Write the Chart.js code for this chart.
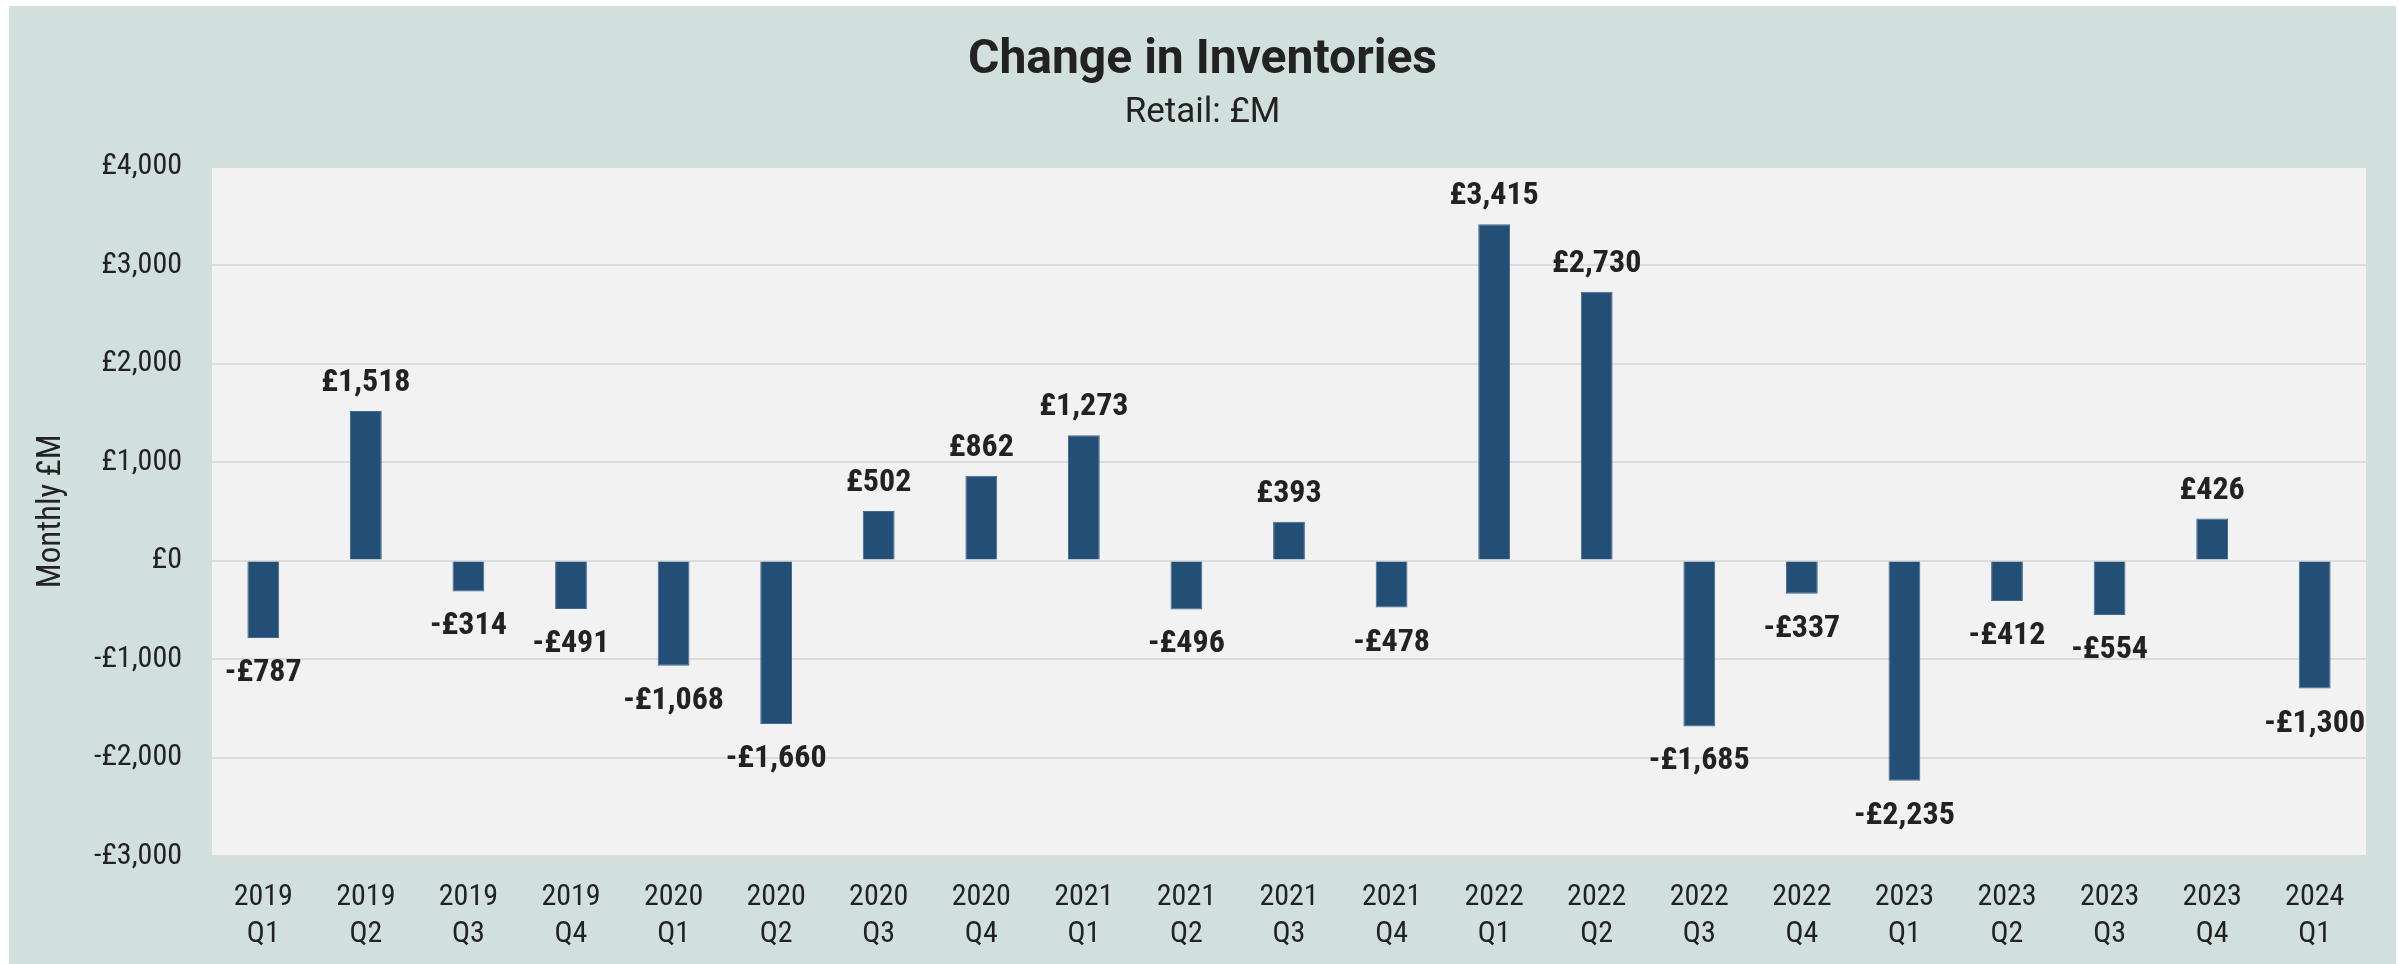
<!DOCTYPE html>
<html lang="en">
<head>
    <meta charset="UTF-8">
    <title>Change in Inventories</title>
    <script src="https://cdn.jsdelivr.net/npm/chart.js"></script>
    <style>
        html, body { margin: 0; padding: 0; background: #ffffff; }
        #wrap { width: 2405px; height: 964px; }
    </style>
</head>
<body>
<div id="wrap"><canvas id="myChart" width="2405" height="964"></canvas></div>

<script>
    // data
    const years    = ['2019','2019','2019','2019','2020','2020','2020','2020','2021','2021','2021','2021','2022','2022','2022','2022','2023','2023','2023','2023','2024'];
    const quarters = ['Q1','Q2','Q3','Q4','Q1','Q2','Q3','Q4','Q1','Q2','Q3','Q4','Q1','Q2','Q3','Q4','Q1','Q2','Q3','Q4','Q1'];
    const changeValues = [-787, 1518, -314, -491, -1068, -1660, 502, 862, 1273, -496, 393, -478, 3415, 2730, -1685, -337, -2235, -412, -554, 426, -1300];
    const yMin = -3000, yMax = 4000, yStep = 1000;

    const FONT_C = "'Roboto Condensed', 'Liberation Sans Narrow', Roboto, sans-serif"; // ticks, labels
    const FONT_R = "Roboto, 'Noto Sans', sans-serif";                                   // titles
    const TEXT = '#222222';

    // £1,234 / -£1,234
    function pounds(v) {
        const s = '£' + Math.abs(v).toLocaleString('en-GB');
        return v < 0 ? '-' + s : s;
    }

    // backgrounds: outer panel and the plot area
    const backgrounds = {
        id: 'backgrounds',
        beforeDraw(chart) {
            const { ctx, chartArea } = chart;
            ctx.save();
            ctx.fillStyle = '#d1e0dd';
            ctx.fillRect(9, 6, 2387, 958);
            ctx.fillStyle = '#f2f2f2';
            ctx.fillRect(chartArea.left, chartArea.top, chartArea.right - chartArea.left, chartArea.bottom - chartArea.top);
            ctx.restore();
        }
    };

    // value labels above / below each bar
    const valueLabels = {
        id: 'valueLabels',
        afterDatasetsDraw(chart) {
            const { ctx } = chart;
            const meta = chart.getDatasetMeta(0);
            ctx.save();
            ctx.font = 'bold 32px ' + FONT_C;
            ctx.fillStyle = TEXT;
            ctx.textAlign = 'center';
            ctx.textBaseline = 'alphabetic';
            meta.data.forEach((bar, i) => {
                const v = changeValues[i];
                const y = v >= 0 ? bar.y - 20 : bar.y + 43;
                ctx.fillText(pounds(v), bar.x, y);
            });
            ctx.restore();
        }
    };

    const ctx = document.getElementById('myChart').getContext('2d');
    new Chart(ctx, {
        type: 'bar',
        data: {
            labels: years.map((y, i) => [y, quarters[i]]),
            datasets: [{
                label: 'Change in Inventories',
                data: changeValues,
                backgroundColor: '#234e75',
                borderColor: '#41698f',
                borderWidth: 1,
                categoryPercentage: 1,
                barPercentage: 0.31
            }]
        },
        options: {
            responsive: false,
            animation: false,
            layout: { padding: { left: 9, right: 9, top: 6, bottom: 0 } },
            plugins: {
                legend: { display: false },
                tooltip: { enabled: false },
                title: {
                    display: true,
                    text: 'Change in Inventories',
                    color: TEXT,
                    font: { family: FONT_R, size: 48, weight: 'bold', lineHeight: 1.2 },
                    padding: { top: 26, bottom: 0 }
                },
                subtitle: {
                    display: true,
                    text: 'Retail: £M',
                    color: TEXT,
                    font: { family: FONT_R, size: 35, weight: 'normal', lineHeight: 1.2 },
                    padding: { top: 3, bottom: 32 }
                }
            },
            scales: {
                x: {
                    grid: { display: false, drawTicks: false },
                    border: { display: false },
                    ticks: {
                        color: TEXT,
                        font: { family: FONT_C, size: 30, lineHeight: 1.23 },
                        padding: 23,
                        maxRotation: 0,
                        autoSkip: false
                    },
                    afterFit(scale) { scale.height = 108; }
                },
                y: {
                    min: yMin,
                    max: yMax,
                    grid: { color: '#dcdcdc', lineWidth: 2, drawTicks: false },
                    border: { display: false },
                    ticks: {
                        stepSize: yStep,
                        color: TEXT,
                        font: { family: FONT_C, size: 30 },
                        padding: 30,
                        callback: (v) => pounds(v)
                    },
                    title: {
                        display: true,
                        text: 'Monthly £M',
                        color: TEXT,
                        font: { family: FONT_C, size: 33, lineHeight: 1.2 },
                        padding: { top: 23, bottom: 0 }
                    },
                    afterFit(scale) { scale.width = 203; }
                },
                // empty right-hand margin so the titles centre on the whole panel
                yRight: {
                    position: 'right',
                    min: yMin,
                    max: yMax,
                    grid: { display: false, drawTicks: false },
                    border: { display: false },
                    ticks: { display: false },
                    afterFit(scale) { scale.width = 30; }
                }
            }
        },
        plugins: [backgrounds, valueLabels]
    });
</script>
</body>
</html>
